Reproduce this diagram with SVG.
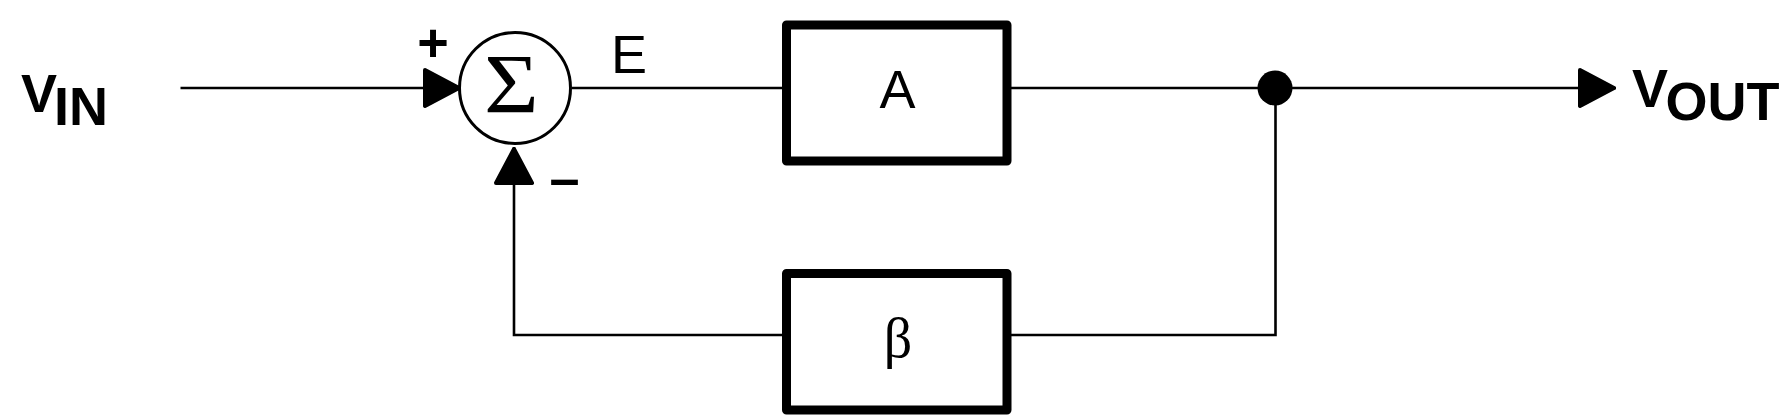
<svg xmlns="http://www.w3.org/2000/svg" width="1782" height="418" viewBox="0 0 1782 418">
<style>
.wire{fill:none;stroke:#000;stroke-width:2.6}
.box{fill:#fff;stroke:#000;stroke-width:9;stroke-linejoin:round}
.lbl{font-family:"Liberation Sans",Arial,sans-serif;font-weight:bold;font-size:54px;fill:#000}
.reg{font-family:"Liberation Sans",Arial,sans-serif;font-size:54px;fill:#000}
.ser{font-family:"Liberation Serif","Times New Roman",serif;fill:#000}
</style>
<defs>
<marker id="arr" markerUnits="userSpaceOnUse" viewBox="-40 -22 44 44" markerWidth="44" markerHeight="44" refX="0" refY="0" orient="auto">
<path d="M-36 -18 L-2 0 L-36 18 Z" fill="#000" stroke="#000" stroke-width="4" stroke-linejoin="round"/>
</marker>
</defs>
<rect width="1782" height="418" fill="#fff"/>
<g id="connectors">
<path class="wire" d="M180.5 88 H461" marker-end="url(#arr)"/>
<path class="wire" d="M572 88 H782"/>
<path class="wire" d="M1011 88 H1275"/>
<path class="wire" d="M1275 88 H1616" marker-end="url(#arr)"/>
<path class="wire" d="M1275.5 88 V335 H1011"/>
<path class="wire" d="M782 335 H514 V147" marker-end="url(#arr)"/>
</g>
<g id="vin">
<text class="lbl" x="21" y="112">V</text>
<text class="lbl" x="54" y="125">IN</text>
</g>
<g id="sum">
<circle cx="515" cy="88" r="55.5" fill="#fff" stroke="#000" stroke-width="3"/>
<text class="ser" transform="translate(511.5 113) scale(1.12 1)" font-size="84" text-anchor="middle">Σ</text>
<text class="lbl" x="433" y="61" font-size="50" text-anchor="middle">+</text>
<text class="lbl" x="564.5" y="197" font-size="62" text-anchor="middle">–</text>
</g>
<g id="e-label">
<text class="reg" x="611" y="73" font-size="52">E</text>
</g>
<g id="amp">
<rect class="box" x="786.5" y="25" width="220.5" height="136"/>
<text class="reg" x="897.5" y="108" text-anchor="middle">A</text>
</g>
<g id="beta">
<rect class="box" x="786.5" y="273.5" width="220.5" height="136.5"/>
<text class="ser" x="898" y="357" font-size="56" text-anchor="middle">β</text>
</g>
<g id="node">
<circle cx="1275" cy="88" r="17.5" fill="#000"/>
</g>
<g id="vout">
<text class="lbl" x="1632" y="107">V</text>
<text class="lbl" x="1665.5" y="120">OUT</text>
</g>
</svg>
